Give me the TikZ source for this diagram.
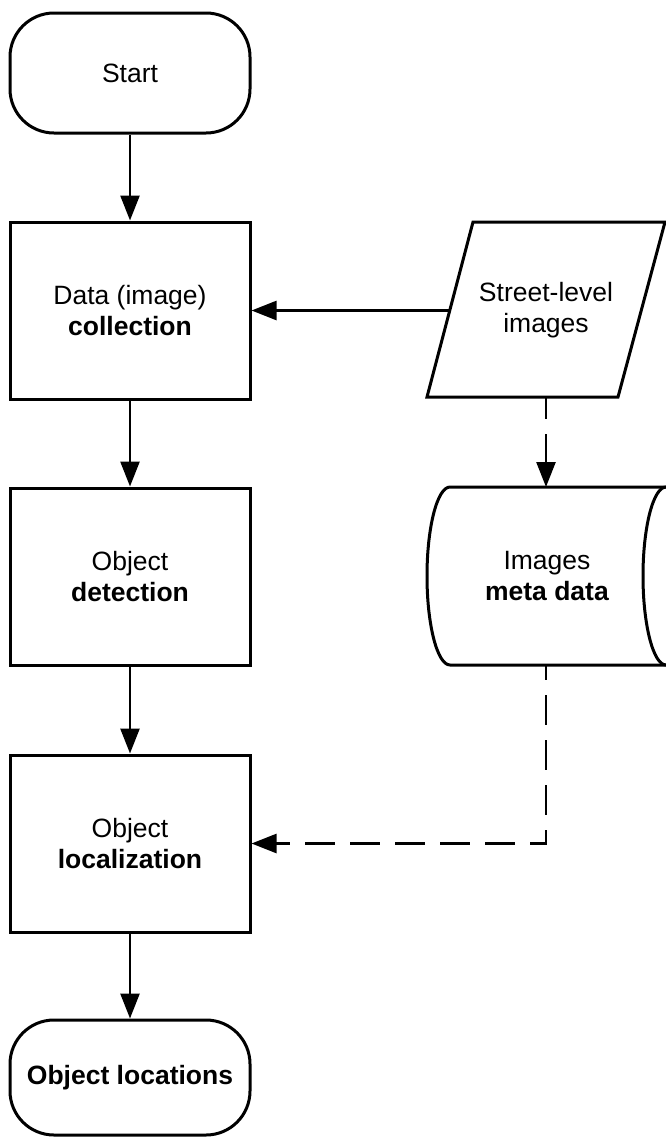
\documentclass[tikz,border=0pt]{standalone}
\usepackage{fontspec}
\setmainfont{Liberation Sans}
\usetikzlibrary{arrows.meta}
\tikzset{
  every node/.style={font=\fontsize{26.5}{31}\selectfont, align=center},
  boxnode/.style={draw, line width=3pt, rectangle, minimum width=240pt, minimum height=177pt, inner sep=0pt},
  termnode/.style={draw, line width=3pt, rectangle, rounded corners=44pt, minimum width=240pt, inner sep=0pt},
  conn/.style={line width=2.5pt, -{Triangle[length=25pt,width=19pt]}},
  dconn/.style={conn, dash pattern=on 30pt off 15pt},
  outline/.style={draw, line width=3pt}
}
\begin{document}
\begin{tikzpicture}[x=1pt,y=-1pt]
\useasboundingbox (0,0) rectangle (666,1138);
\fill[white] (0,0) rectangle (666,1138);

\node[termnode, minimum height=120pt] (start) at (130,73) {Start};
\node[boxnode] (data) at (130,310.5) {Data (image)\\\textbf{collection}};
\node[boxnode] (det) at (130,576.5) {Object\\\textbf{detection}};
\node[boxnode] (loc) at (130,843.5) {Object\\\textbf{localization}};
\node[termnode, minimum height=115pt] (end) at (130,1077.5) {\textbf{Object locations}};

% parallelogram
\draw[outline, line join=miter] (473,222) -- (665,222) -- (618,397) -- (427,397) -- cycle;
\node (si) at (546,310) {Street-level\\images};
\coordinate (siL) at (449.6,310.5);
\coordinate (siB) at (546,397);

% cylinder (cut off at the right border)
\begin{scope}
\clip (0,0) rectangle (666,1138);
\draw[outline] (690,487) -- (450,487)
  .. controls (437.3,487) and (427,527) .. (427,576)
  .. controls (427,625) and (437.3,665) .. (450,665) -- (690,665);
\draw[outline] (666,487) .. controls (653.3,487) and (643,527) .. (643,576)
  .. controls (643,625) and (653.3,665) .. (666,665);
\end{scope}
\node (cyl) at (547,576) {Images\\\textbf{meta data}};
\coordinate (cylT) at (546,487);
\coordinate (cylB) at (546,665);

% connectors
\draw[conn] (start) -- (data);
\draw[conn] (data) -- (det);
\draw[conn] (det) -- (loc);
\draw[conn] (loc) -- (end);
\draw[conn] (siL) -- (data.east);
\draw[dconn, dash phase=8pt] (siB) -- (cylT);
\draw[dconn, dash phase=15pt] (cylB) |- (loc.east);
\end{tikzpicture}
\end{document}
